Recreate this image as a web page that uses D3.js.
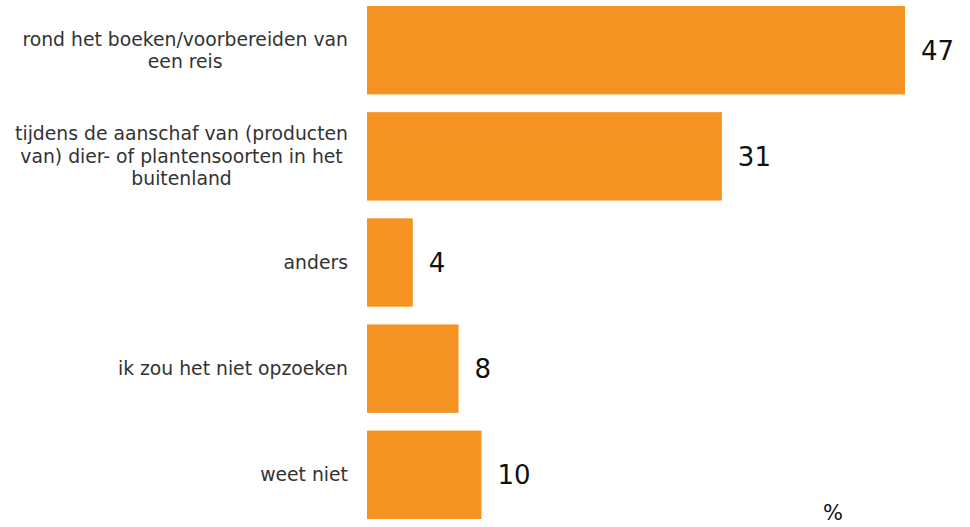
<!DOCTYPE html>
<html>
<head>
<meta charset="utf-8">
<script src="https://cdn.jsdelivr.net/npm/d3@7"></script>
<style>
  body { margin: 0; background: #fff; }
  svg { display: block; }
</style>
</head>
<body>
<svg width="970" height="527"></svg>
<script>
var categories = [
  "rond het boeken/voorbereiden van een reis",
  "tijdens de aanschaf van (producten van) dier- of plantensoorten in het buitenland",
  "anders",
  "ik zou het niet opzoeken",
  "weet niet"
];
var values = [47, 31, 4, 8, 10];
var unitLabel = "%";

var svg = d3.select("svg"),
  width = +svg.attr("width"),
  height = +svg.attr("height");

var font = "DejaVu Sans, Verdana, sans-serif";

var xScale = d3.scaleLinear() // bars grow from the left edge of the plot
  .domain([0, d3.max(values)])
  .range([367, 905]);

var yScale = d3.scaleBand()
  .domain(categories)
  .range([6, 519])
  .paddingInner(0.167)
  .paddingOuter(0);

svg.selectAll(".bar")
  .data(values)
  .enter()
  .append("rect")
  .attr("class", "bar")
  .attr("x", xScale(0))
  .attr("y", (d, i) => yScale(categories[i]))
  .attr("width", d => xScale(d) - xScale(0))
  .attr("height", yScale.bandwidth())
  .style("fill", "#F59322");

// value labels right of each bar
svg.selectAll(".val")
  .data(values)
  .enter()
  .append("text")
  .attr("class", "val")
  .attr("x", d => xScale(d) + 16)
  .attr("y", (d, i) => yScale(categories[i]) + yScale.bandwidth() / 2)
  .attr("dy", "0.36em")
  .attr("font-family", font)
  .attr("font-size", "26px")
  .attr("fill", "#111")
  .text(d => d);

// category labels: wrapped, block right aligned, lines centred in block
var maxW = 338, lineH = 22.5, labelRight = 348;
var measure = svg.append("text")
  .attr("font-family", font)
  .attr("font-size", "18.8px")
  .attr("visibility", "hidden");

function textWidth(s) {
  measure.text(s);
  return measure.node().getComputedTextLength();
}

categories.forEach(function (cat, i) {
  var words = cat.split(" "), lines = [], cur = "";
  words.forEach(function (w) {
    var t = cur ? cur + " " + w : w;
    if (textWidth(t) > maxW && cur) {
      lines.push(cur);
      cur = w;
    } else {
      cur = t;
    }
  });
  lines.push(cur);
  var blockW = d3.max(lines, textWidth);
  var cx = labelRight - blockW / 2;
  var cy = yScale(cat) + yScale.bandwidth() / 2;
  var top = cy - (lines.length - 1) * lineH / 2;
  var t = svg.append("text")
    .attr("font-family", font)
    .attr("font-size", "18.8px")
    .attr("fill", "#333")
    .attr("text-anchor", "middle");
  lines.forEach(function (l, j) {
    t.append("tspan")
      .attr("x", cx)
      .attr("y", top + j * lineH)
      .attr("dy", "0.35em")
      .text(l);
  });
});
measure.remove();

svg.append("text")
  .attr("x", 833)
  .attr("y", 520)
  .attr("text-anchor", "middle")
  .attr("font-family", font)
  .attr("font-size", "21px")
  .attr("fill", "#111")
  .text(unitLabel);
</script>
</body>
</html>
